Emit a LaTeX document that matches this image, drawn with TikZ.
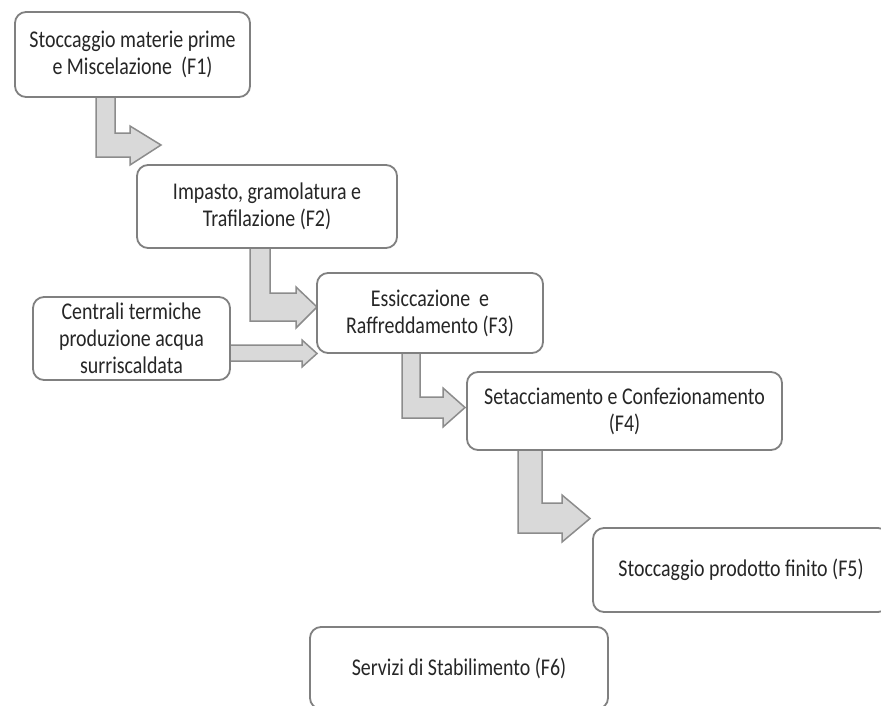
\documentclass[tikz,border=0pt]{standalone}
\usepackage{fontspec}
\setmainfont{Carlito}[FakeStretch=0.83]
\begin{document}
\begin{tikzpicture}[x=1pt,y=-1pt,
  box/.style={draw=boxgray,line width=1.8pt,rounded corners=11pt,fill=white,
    inner sep=0pt,outer sep=0pt,align=center,font=\fontsize{24}{27}\selectfont,text=black!85},
  blockarrow/.style={draw=arrgray,fill=arrfill,line width=1.5pt,line join=miter}]
\definecolor{boxgray}{RGB}{128,128,128}
\definecolor{arrgray}{RGB}{140,140,140}
\definecolor{arrfill}{RGB}{217,217,217}
\useasboundingbox (0,0) rectangle (881,705);
\clip (0,0) rectangle (881,705);
% block arrows
\draw[blockarrow] (96,97) -- (115,97) -- (115,133) -- (130,133) -- (130,126) -- (161,145) -- (130,165) -- (130,157) -- (96,157) -- cycle;
\draw[blockarrow] (250,248) -- (270,248) -- (270,293) -- (296,293) -- (296,287) -- (317,307) -- (296,328) -- (296,321) -- (250,321) -- cycle;
\draw[blockarrow] (230,345) -- (302,345) -- (302,340) -- (317,353.5) -- (302,367) -- (302,361) -- (230,361) -- cycle;
\draw[blockarrow] (402,353) -- (420,353) -- (420,397) -- (443,397) -- (443,388) -- (465,407.5) -- (443,427) -- (443,418) -- (402,418) -- cycle;
\draw[blockarrow] (518,450) -- (542,450) -- (542,503) -- (562,503) -- (562,495) -- (590,518.5) -- (562,542) -- (562,533) -- (518,533) -- cycle;
% boxes
\node[box,minimum width=235pt,minimum height=85pt] (f1) at (132.5,54.5) {Stoccaggio materie prime\\e Miscelazione\ \ (F1)};
\node[box,minimum width=260pt,minimum height=83pt] (f2) at (267,206.5) {Impasto, gramolatura e\\Trafilazione (F2)};
\node[box,minimum width=226pt,minimum height=80pt] (f3) at (430,313) {Essiccazione\ \ e\\Raffreddamento (F3)};
\node[box,minimum width=197pt,minimum height=83pt] (ct) at (131.5,338.5) {Centrali termiche\\produzione acqua\\surriscaldata};
\node[box,minimum width=315pt,minimum height=78pt] (f4) at (624.5,411) {Setacciamento e Confezionamento\\(F4)};
\node[box,minimum width=296pt,minimum height=84pt] (f5) at (741,570) {Stoccaggio prodotto finito (F5)};
\node[box,minimum width=298pt,minimum height=82pt] (f6) at (459,668) {Servizi di Stabilimento (F6)};
\end{tikzpicture}
\end{document}
